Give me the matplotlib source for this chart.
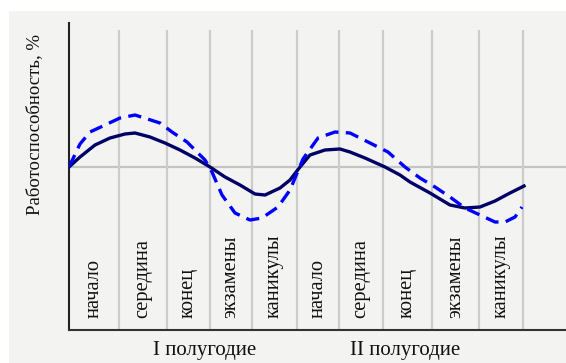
import matplotlib.pyplot as plt
from matplotlib.patches import Rectangle

plt.rcParams["font.family"] = ["Liberation Serif", "DejaVu Serif"]

# границы периодов (условные единицы времени)
bounds = [50, 98, 141, 183, 228, 270, 314, 363, 410, 454]
periods = ["начало", "середина", "конец", "экзамены", "каникулы",
           "начало", "середина", "конец", "экзамены", "каникулы"]
halves = ["I полугодие", "II полугодие"]
half_x = [136, 336]

# сплошная кривая
x1 = [0, 11, 26, 41, 56, 66, 81, 96, 111, 126, 141, 156, 171, 186, 196, 211,
      221, 231, 241, 256, 271, 281, 296, 316, 331, 341, 361, 381, 396, 411,
      426, 441, 455]
y1 = [0, 10, 22, 29, 33, 34, 30, 24, 17, 9, 0, -10, -18, -27, -28, -21,
      -13, 0, 12, 17, 18, 15, 9, 0, -8, -15, -26, -38, -41, -40,
      -34, -26, -19]

# пунктирная кривая
x2 = [0, 11, 21, 36, 51, 66, 91, 103, 118, 136, 143, 153, 166, 181, 193, 209,
      221, 234, 249, 266, 281, 301, 319, 336, 351, 366, 381, 396, 411, 426,
      436, 446, 453]
y2 = [0, 23, 35, 42, 49, 52, 44, 35, 25, 7, -5, -28, -46, -53, -51, -40,
      -23, 8, 29, 35, 34, 24, 15, 0, -11, -20, -30, -41, -48, -55,
      -55, -50, -40]

fig = plt.figure(figsize=(5.66, 3.63), dpi=100, facecolor="white")
fig.patches.append(Rectangle((9 / 566, 0), 1, 1 - 11 / 363, transform=fig.transFigure,
                             facecolor="#f3f4f2", edgecolor="none", zorder=-5))

ax = fig.add_axes([69 / 566, 33 / 363, 497 / 566, 307 / 363])
ax.set_zorder(2)
ax.set_facecolor("none")
ax.set_xlim(0, 497)
ax.set_ylim(-163, 144)

ax.axhline(0, color="#c4c4c4", lw=1.6, zorder=1)
ax.vlines(bounds, -163, 137, color="#cccccc", lw=1.6, zorder=1)

ax.plot(x1, y1, color="#000066", lw=2.4, zorder=3)
ax.plot(x2, y2, color="#0000ff", lw=2.4, ls=(0, (4, 2.2)), zorder=4)

starts = [0] + bounds[:-1]
for s, e, name in zip(starts, bounds, periods):
    ax.text((s + e) / 2, -151, name, rotation=90, ha="center", va="bottom",
            fontsize=14.8, color="#111111")

for x, name in zip(half_x, halves):
    ax.text(x, -0.068, name, transform=ax.get_xaxis_transform(),
            ha="center", va="center", fontsize=15, color="#111111")

ax.text(-0.0684, 0.671, "Работоспособность, %", transform=ax.transAxes,
        rotation=90, ha="center", va="center", fontsize=13.5, color="#111111")

for side in ["top", "right"]:
    ax.spines[side].set_visible(False)
ax.spines["left"].set_color("#222222")
ax.spines["bottom"].set_color("#333333")
ax.spines["left"].set_linewidth(1.5)
ax.spines["bottom"].set_linewidth(1.5)
ax.set_xticks([])
ax.set_yticks([])

fig.savefig("out.png", dpi=100, facecolor="white")
